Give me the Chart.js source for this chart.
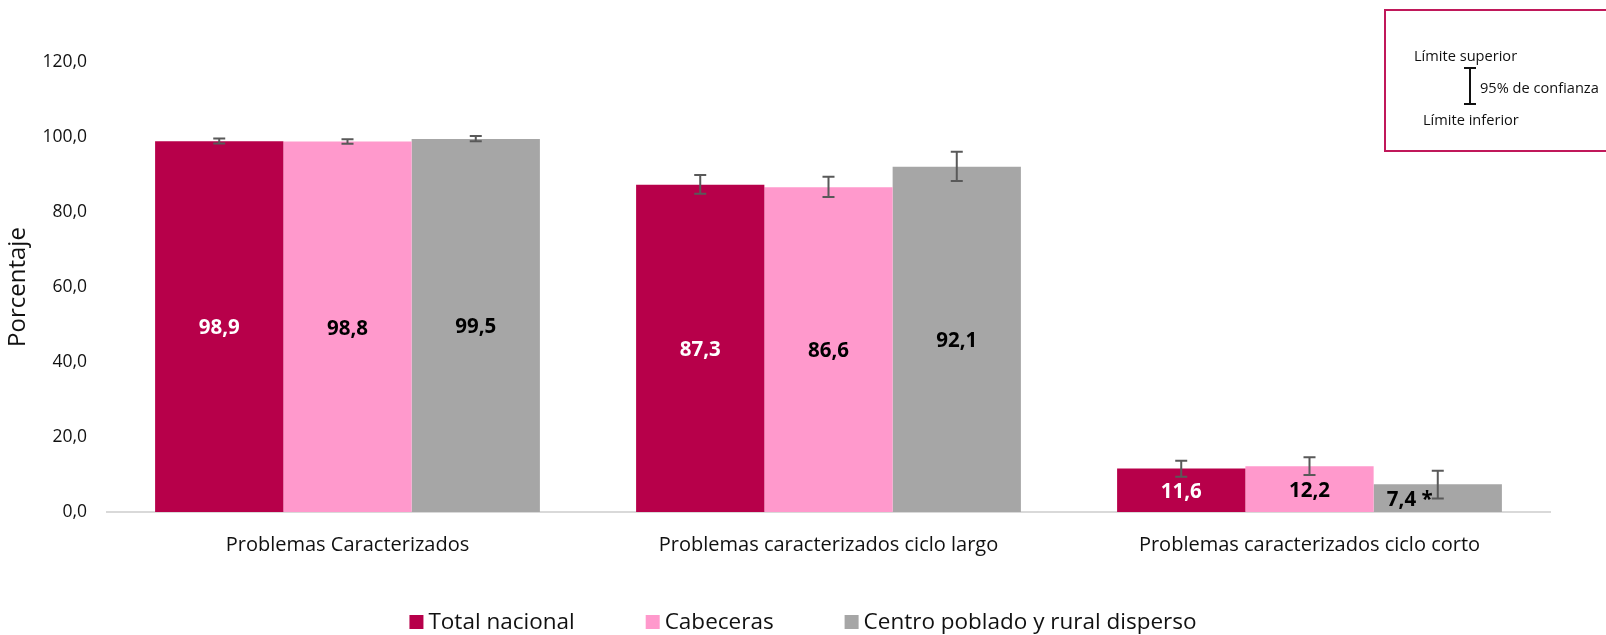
<!DOCTYPE html>
<html>
<head>
<meta charset="utf-8">
<script src="https://cdn.jsdelivr.net/npm/chart.js@4/dist/chart.umd.min.js"></script>
<style>
  html, body { margin: 0; padding: 0; background: #fff; overflow: hidden; }
  #wrap { position: relative; width: 1606px; height: 635px; }
  #ciBox {
    position: absolute; left: 1384px; top: 9px; width: 240px; height: 143px;
    border: 2px solid #c0185a; box-sizing: border-box;
    font-family: "Open Sans", sans-serif; font-size: 14.6px; color: #111;
  }
  #ciBox span { position: absolute; white-space: nowrap; }
  #ciBar { position: absolute; left: 83px; top: 56px; width: 2px; height: 38px; background: #111; }
  #ciBar::before, #ciBar::after { content: ""; position: absolute; left: -5px; width: 12px; height: 2px; background: #111; }
  #ciBar::before { top: 0; }
  #ciBar::after { bottom: 0; }
</style>
</head>
<body>
<div id="wrap">
  <canvas id="chart" width="1606" height="635"></canvas>
  <div id="ciBox">
    <span style="left:28px; top:34px;">Límite superior</span>
    <div id="ciBar"></div>
    <span style="left:94px; top:66px;">95% de confianza</span>
    <span style="left:37px; top:98px;">Límite inferior</span>
  </div>
</div>
<script>
/* ================== DATOS ================== */
const categories = [
  "Problemas Caracterizados",
  "Problemas caracterizados ciclo largo",
  "Problemas caracterizados ciclo corto"
];
const seriesNames = ["Total nacional", "Cabeceras", "Centro poblado y rural disperso"];

const totalNacional = [98.9, 87.3, 11.6];
const cabeceras     = [98.8, 86.6, 12.2];
const centroPoblado = [99.5, 92.1, 7.4];

// intervalos de confianza 95% (límite inferior / superior)
const totalLow  = [98.3, 84.9, 9.4];
const totalHigh = [99.6, 89.9, 13.7];
const cabLow    = [98.2, 84.0, 9.9];
const cabHigh   = [99.4, 89.4, 14.6];
const centroLow  = [98.9, 88.3, 3.6];
const centroHigh = [100.3, 96.1, 11.0];

// marca de advertencia en la etiqueta (coeficiente de variación alto)
const centroMarks = ["", "", " *"];

const yTicks = [0, 20, 40, 60, 80, 100, 120];

/* ================== ESTILO ================== */
const FONT = "'Open Sans', sans-serif";
const colors = ["#b7004a", "#ff99cc", "#a6a6a6"];
const labelColors = ["#ffffff", "#000000", "#000000"];
const fmt = v => v.toFixed(1).replace(".", ",");

/* ================== PLUGINS ================== */
const errorBars = {
  id: "errorBars",
  afterDatasetsDraw(chart) {
    const { ctx, scales: { y } } = chart;
    ctx.save();
    ctx.strokeStyle = "#595959";
    ctx.lineWidth = 2;
    chart.data.datasets.forEach((ds, i) => {
      chart.getDatasetMeta(i).data.forEach((bar, j) => {
        const yl = y.getPixelForValue(ds.ciLow[j]);
        const yh = y.getPixelForValue(ds.ciHigh[j]);
        const x = bar.x;
        ctx.beginPath();
        ctx.moveTo(x, yl); ctx.lineTo(x, yh);
        ctx.moveTo(x - 6, yl); ctx.lineTo(x + 6, yl);
        ctx.moveTo(x - 6, yh); ctx.lineTo(x + 6, yh);
        ctx.stroke();
      });
    });
    ctx.restore();
  }
};

const barLabels = {
  id: "barLabels",
  afterDraw(chart) {
    const { ctx } = chart;
    ctx.save();
    ctx.font = "bold 20.5px " + FONT;
    ctx.textAlign = "center";
    ctx.textBaseline = "middle";
    chart.data.datasets.forEach((ds, i) => {
      ctx.fillStyle = labelColors[i];
      chart.getDatasetMeta(i).data.forEach((bar, j) => {
        const mark = (ds.marks && ds.marks[j]) || "";
        const dx = mark ? -28 : 0;
        ctx.fillText(fmt(ds.data[j]) + mark, bar.x + dx, (bar.y + bar.base) / 2 + 2);
      });
    });
    ctx.restore();
  }
};

// leyenda inferior dibujada a mano (cuadro + texto, separación fija)
const bottomLegend = {
  id: "bottomLegend",
  afterDraw(chart) {
    const { ctx, width } = chart;
    const box = 14, gapText = 5, gapItem = 71, yMid = 622;
    ctx.save();
    ctx.font = "22.5px " + FONT;
    ctx.textBaseline = "middle";
    const items = chart.data.datasets.map(ds => ({
      text: ds.label, color: ds.backgroundColor, w: ctx.measureText(ds.label).width
    }));
    const total = items.reduce((s, it) => s + box + gapText + it.w, 0) + gapItem * (items.length - 1);
    let x = (width - total) / 2;
    items.forEach(it => {
      ctx.fillStyle = it.color;
      ctx.fillRect(x, yMid - box / 2, box, box);
      ctx.fillStyle = "#111";
      ctx.fillText(it.text, x + box + gapText, yMid + 1);
      x += box + gapText + it.w + gapItem;
    });
    ctx.restore();
  }
};

/* ================== GRÁFICO ================== */
new Chart(document.getElementById("chart"), {
  type: "bar",
  data: {
    labels: categories,
    datasets: [
      { label: seriesNames[0], data: totalNacional, ciLow: totalLow, ciHigh: totalHigh, backgroundColor: colors[0] },
      { label: seriesNames[1], data: cabeceras, ciLow: cabLow, ciHigh: cabHigh, backgroundColor: colors[1] },
      { label: seriesNames[2], data: centroPoblado, ciLow: centroLow, ciHigh: centroHigh, marks: centroMarks, backgroundColor: colors[2] }
    ]
  },
  options: {
    responsive: false,
    animation: false,
    events: [],
    datasets: { bar: { categoryPercentage: 0.8, barPercentage: 1.0, borderWidth: 0 } },
    layout: { padding: { left: 0, right: 56, top: 62, bottom: 0 } },
    plugins: {
      tooltip: { enabled: false },
      legend: { display: false }
    },
    scales: {
      x: {
        grid: { display: false, drawTicks: false },
        border: { color: "#d9d9d9", width: 2 },
        ticks: { font: { family: FONT, size: 20 }, color: "#111", padding: 21 },
        afterFit: s => { s.height = 123; }
      },
      y: {
        min: 0, max: 120,
        afterBuildTicks: s => { s.ticks = yTicks.map(v => ({ value: v })); },
        grid: { display: false, drawTicks: false },
        border: { display: false },
        ticks: { font: { family: FONT, size: 17.5 }, color: "#111", padding: 20, callback: v => fmt(v) },
        title: { display: true, text: "Porcentaje", font: { family: FONT, size: 24 }, color: "#111", padding: { top: 4, bottom: 0 } },
        afterFit: s => { s.width = 107; }
      }
    }
  },
  plugins: [errorBars, barLabels, bottomLegend]
});
</script>
</body>
</html>
